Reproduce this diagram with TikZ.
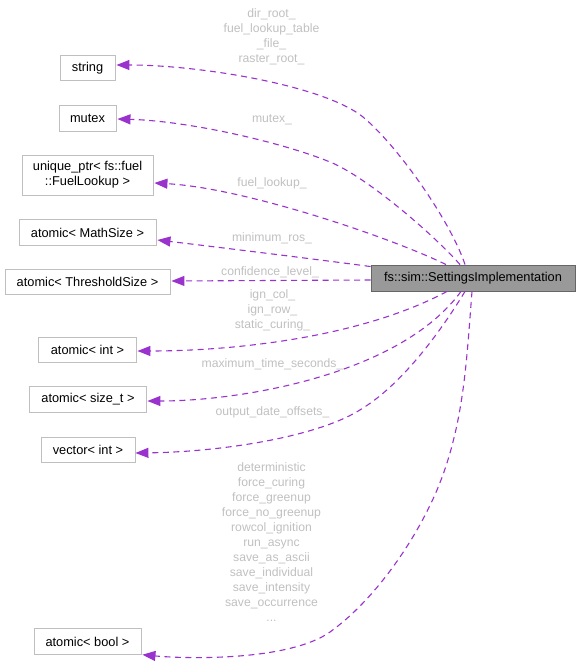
\documentclass[tikz,border=0pt]{standalone}
\usepackage{fontspec}
\setmainfont{Liberation Sans}
\usetikzlibrary{arrows.meta,calc}
\definecolor{edgecol}{HTML}{9A32CD}
\definecolor{lblcol}{HTML}{C0C0C0}
\definecolor{boxcol}{HTML}{BFBFBF}
\definecolor{mainfill}{HTML}{999999}
\definecolor{mainline}{HTML}{666666}
\begin{document}
\begin{tikzpicture}[x=1pt,y=-1pt,
  cls/.style={draw=boxcol,line width=0.9pt,fill=white,minimum height=25.5pt,inner sep=0pt,align=center,font=\fontsize{12.8}{15}\selectfont},
  mainbox/.style={draw=mainline,line width=0.9pt,fill=mainfill,minimum height=26pt,minimum width=204pt,inner sep=0pt,font=\fontsize{12.8}{15}\selectfont},
  lbl/.style={text=lblcol,inner sep=0pt,align=center,font=\fontsize{12.2}{15}\selectfont},
  edge/.style={draw=edgecol,line width=1.1pt,dash pattern=on 6pt off 4.5pt,-{Triangle[length=13pt,width=10pt]}}]
\useasboundingbox (0,0) rectangle (579,666);
% nodes
\node[mainbox] (main) at (473,278) {fs::sim::SettingsImplementation};
\node[cls,minimum width=55pt] (string) at (87.5,68) {string};
\node[cls,minimum width=57pt] (mutex) at (87.5,118.5) {mutex};
\node[cls,minimum width=131pt,minimum height=40pt] (uptr) at (87.5,175) {unique\_ptr< fs::fuel\\::FuelLookup >};
\node[cls,minimum width=137pt] (mathsize) at (87.5,232.5) {atomic< MathSize >};
\node[cls,minimum width=165pt] (thresh) at (87.5,282) {atomic< ThresholdSize >};
\node[cls,minimum width=98pt] (aint) at (87.5,350) {atomic< int >};
\node[cls,minimum width=117pt] (asize) at (88,399.5) {atomic< size\_t >};
\node[cls,minimum width=94pt] (vint) at (88,450) {vector< int >};
\node[cls,minimum width=107pt] (abool) at (87.5,641.5) {atomic< bool >};
% labels
\node[lbl] (l1) at (271.5,37) {dir\_root\_\\fuel\_lookup\_table\\\_file\_\\raster\_root\_};
\node[lbl] (l2) at (272,120) {mutex\_};
\node[lbl] (l3) at (272,183) {fuel\_lookup\_};
\node[lbl] (l4) at (272,238) {minimum\_ros\_};
\node[lbl] (l5) at (270,272.5) {confidence\_level\_};
\node[lbl] (l6) at (272.5,310) {ign\_col\_\\ign\_row\_\\static\_curing\_};
\node[lbl] (l7) at (272.5,364) {maximum\_time\_seconds\_};
\node[lbl] (l8) at (272.5,412.5) {output\_date\_offsets\_};
\node[lbl] (l9) at (271.5,542) {deterministic\\force\_curing\\force\_greenup\\force\_no\_greenup\\rowcol\_ignition\\run\_async\\save\_as\_ascii\\save\_individual\\save\_intensity\\save\_occurrence\\...};
% edges
\draw[edge] ($(main.north)+(-8,0)$) .. controls (451,222) and (398,146) .. (363,117) .. controls (324,85.5) and (200,65) .. ($(string.east)+(1,-3)$);
\draw[edge] ($(main.north)+(-13,0)$) .. controls (434,235) and (367,177) .. (330,162) .. controls (284,143) and (190,121) .. ($(mutex.east)+(1,0.5)$);
\draw[edge] ($(main.north)+(-27,0)$) .. controls (392,238) and (245,188) .. ($(uptr.east)+(1,8)$);
\draw[edge] ($(main.north west)+(0,2)$) .. controls (330,261) and (200,245) .. ($(mathsize.east)+(1,7.5)$);
\draw[edge] ($(main.west)+(0,2)$) -- ($(thresh.east)+(1,-1)$);
\draw[edge] ($(main.south)+(-26,0)$) .. controls (358,339) and (228,351) .. ($(aint.east)+(0.5,1)$);
\draw[edge] ($(main.south)+(-12,0)$) .. controls (400,375) and (240,401) .. ($(asize.east)+(0.5,1.5)$);
\draw[edge] ($(main.south)+(-8,0)$) .. controls (428,352) and (392,390) .. (363,408) .. controls (320,437) and (220,452) .. ($(vint.east)+(0,3)$);
\draw[edge] ($(main.south)+(-1,0)$) .. controls (466.5,361) and (464,425.6) .. (437,490) .. controls (415.5,540.6) and (374.7,600) .. (330,632) .. controls (289,661) and (187,659) .. ($(abool.south east)+(1,0)$);
\end{tikzpicture}
\end{document}
